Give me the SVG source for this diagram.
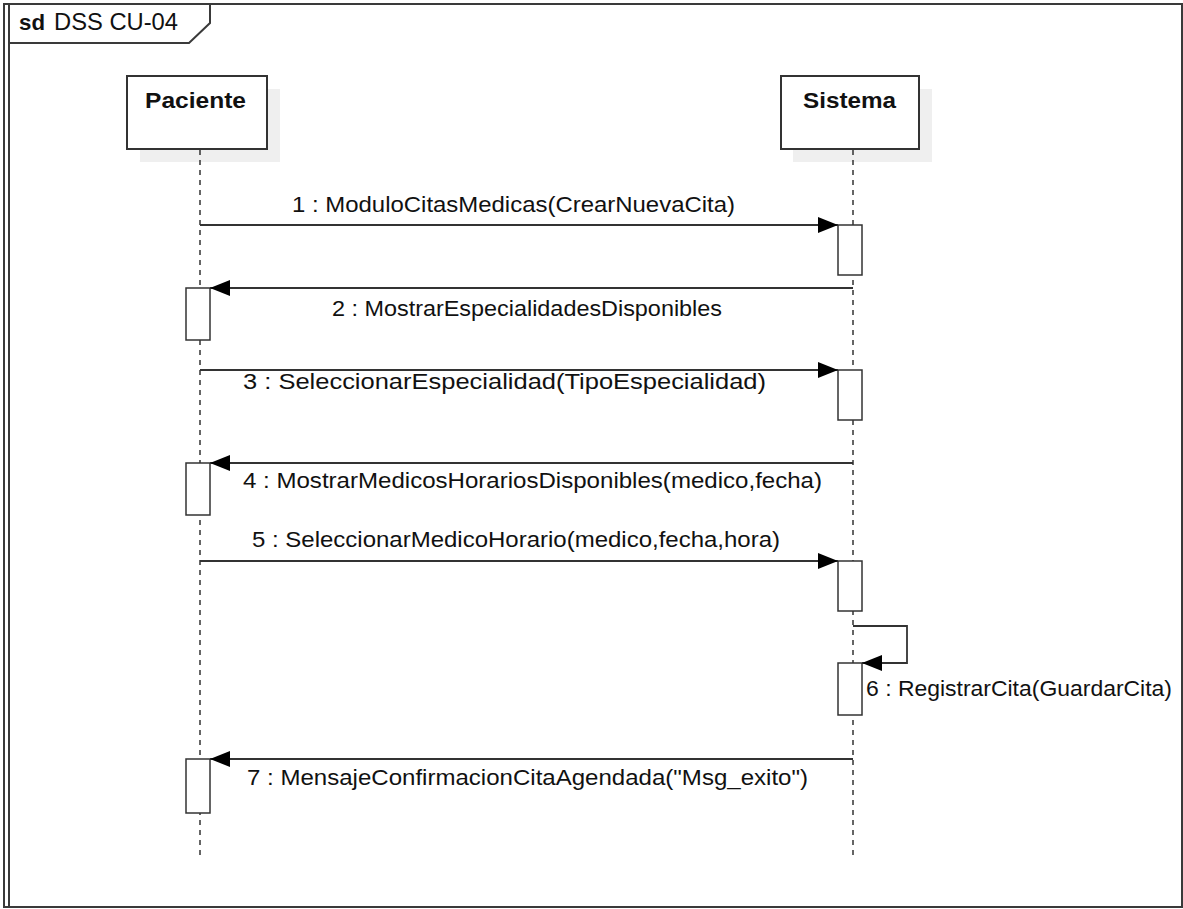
<svg xmlns="http://www.w3.org/2000/svg" width="1183" height="909" viewBox="0 0 1183 909">
  <style>
    .frame { fill: none; stroke: #3a3a3a; stroke-width: 2; }
    .box { fill: #ffffff; stroke: #333333; stroke-width: 2; }
    .shadow { fill: #efefef; stroke: none; }
    .life { fill: none; stroke: #333333; stroke-width: 1.5; stroke-dasharray: 5 5; }
    .act { fill: #ffffff; stroke: #333333; stroke-width: 1.5; }
    .msg { fill: none; stroke: #333333; stroke-width: 1.8; }
    .lbl { font-family: "Liberation Sans", Arial, sans-serif; font-size: 22px; fill: #111111; }
    .head { font-family: "Liberation Sans", Arial, sans-serif; font-size: 22px; font-weight: bold; fill: #111111; }
  </style>
  <defs>
    <marker id="arrow" markerWidth="20" markerHeight="16" refX="20" refY="8" orient="auto" markerUnits="userSpaceOnUse">
      <path d="M0,0 L20,8 L0,16 Z" fill="#000000"/>
    </marker>
  </defs>

  <rect x="0" y="0" width="1183" height="909" fill="#ffffff"/>

  <!-- interaction frame -->
  <g id="frame">
    <path class="frame" d="M4,4 H1182 V907 H4 Z"/>
    <line class="frame" x1="9" y1="4" x2="9" y2="907"/>
    <path class="frame" d="M9,43 H189 L210,23 V4"/>
    <text x="19" y="30" class="head" textLength="26" lengthAdjust="spacingAndGlyphs">sd</text>
    <text x="54" y="30" class="lbl" style="font-size:24px" textLength="124" lengthAdjust="spacingAndGlyphs">DSS CU-04</text>
  </g>

  <!-- lifeline: Paciente -->
  <g id="paciente">
    <rect class="shadow" x="140" y="89" width="140" height="73"/>
    <rect class="box" x="127" y="76" width="140" height="73"/>
    <text x="145" y="108" class="head" textLength="101" lengthAdjust="spacingAndGlyphs">Paciente</text>
    <line class="life" x1="200" y1="150" x2="200" y2="858"/>
    <rect class="act" x="186" y="288" width="24" height="52"/>
    <rect class="act" x="186" y="463" width="24" height="52"/>
    <rect class="act" x="186" y="759" width="24" height="54"/>
  </g>

  <!-- lifeline: Sistema -->
  <g id="sistema">
    <rect class="shadow" x="793" y="89" width="139" height="73"/>
    <rect class="box" x="781" y="76" width="138" height="73"/>
    <text x="803" y="108" class="head" textLength="93" lengthAdjust="spacingAndGlyphs">Sistema</text>
    <line class="life" x1="853" y1="150" x2="853" y2="858"/>
    <rect class="act" x="838" y="225" width="24" height="50"/>
    <rect class="act" x="838" y="370" width="24" height="50"/>
    <rect class="act" x="838" y="561" width="24" height="50"/>
    <rect class="act" x="838" y="663" width="24" height="52"/>
  </g>

  <!-- messages -->
  <g id="connectors">
    <line class="msg" x1="200" y1="225" x2="838" y2="225" marker-end="url(#arrow)"/>
    <text x="292" y="212" class="lbl" textLength="443" lengthAdjust="spacingAndGlyphs">1 : ModuloCitasMedicas(CrearNuevaCita)</text>

    <line class="msg" x1="853" y1="288" x2="210" y2="288" marker-end="url(#arrow)"/>
    <text x="332" y="316" class="lbl" textLength="390" lengthAdjust="spacingAndGlyphs">2 : MostrarEspecialidadesDisponibles</text>

    <line class="msg" x1="200" y1="370" x2="838" y2="370" marker-end="url(#arrow)"/>
    <text x="243" y="389" class="lbl" textLength="523" lengthAdjust="spacingAndGlyphs">3 : SeleccionarEspecialidad(TipoEspecialidad)</text>

    <line class="msg" x1="853" y1="463" x2="210" y2="463" marker-end="url(#arrow)"/>
    <text x="243" y="488" class="lbl" textLength="579" lengthAdjust="spacingAndGlyphs">4 : MostrarMedicosHorariosDisponibles(medico,fecha)</text>

    <line class="msg" x1="200" y1="561" x2="838" y2="561" marker-end="url(#arrow)"/>
    <text x="252" y="547" class="lbl" textLength="528" lengthAdjust="spacingAndGlyphs">5 : SeleccionarMedicoHorario(medico,fecha,hora)</text>

    <path class="msg" d="M853,626 H907 V663 H862" marker-end="url(#arrow)"/>
    <text x="866" y="696" class="lbl" textLength="306" lengthAdjust="spacingAndGlyphs">6 : RegistrarCita(GuardarCita)</text>

    <line class="msg" x1="853" y1="759" x2="210" y2="759" marker-end="url(#arrow)"/>
    <text x="247" y="785" class="lbl" textLength="561" lengthAdjust="spacingAndGlyphs">7 : MensajeConfirmacionCitaAgendada("Msg_exito")</text>
  </g>
</svg>
